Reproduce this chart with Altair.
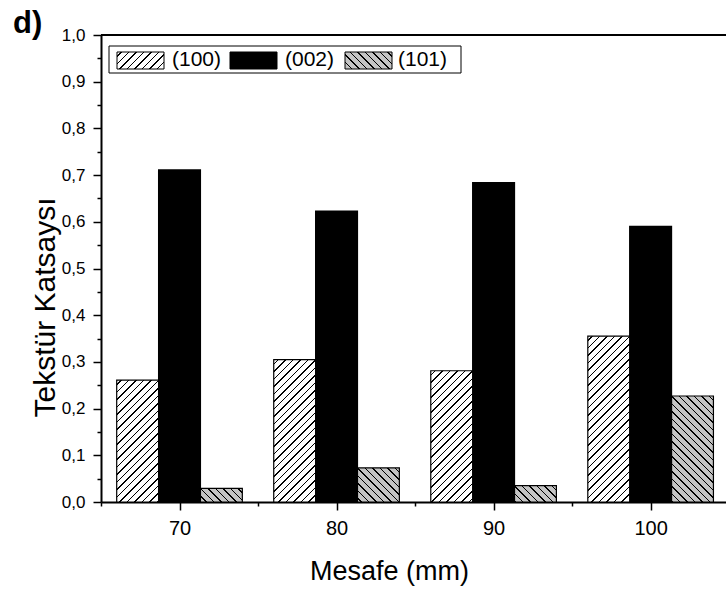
import altair as alt
import pandas as pd

# ---------------- data ----------------
mesafe = [70, 80, 90, 100]
planes = ["(100)", "(002)", "(101)"]
tc_100 = [0.261, 0.305, 0.281, 0.355]
tc_002 = [0.711, 0.623, 0.684, 0.590]
tc_101 = [0.029, 0.073, 0.035, 0.227]
x_tick_values = [65, 70, 75, 80, 85, 90, 95, 100]
y_tick_values = [0.0, 0.05, 0.1, 0.15, 0.2, 0.25, 0.3, 0.35, 0.4, 0.45, 0.5,
                 0.55, 0.6, 0.65, 0.7, 0.75, 0.8, 0.85, 0.9, 0.95, 1.0]

series = [tc_100, tc_002, tc_101]
rows = []
for j, (plane, vals) in enumerate(zip(planes, series)):
    for m, v in zip(mesafe, vals):
        rows.append({"mesafe": m, "plane": plane, "idx": j, "value": v})
df = pd.DataFrame(rows)

# ---------------- layout / style ----------------
FONT = "Liberation Sans"
W_PLOT, H_PLOT = 625, 467
X_DOMAIN = [65, 104.8]
GROUP = 8.0                      # group width in data units
BAR = GROUP / 3.0
PX_X = W_PLOT / (X_DOMAIN[1] - X_DOMAIN[0])
PX_Y = H_PLOT / 1.0
GREY = "#c4c4c4"


def hatch(W, H, bg, fg, direction, period=7.5, lw=1.5):
    """Linear-gradient stripes giving a 45-degree hatch on a W x H box."""
    S = W + H
    c = S / (W * W + H * H)
    if direction == "/":
        x1, y1, x2, y2 = 0, 0, c * W, c * H
    else:
        x1, y1, x2, y2 = 1, 0, 1 - c * W, c * H
    stops = [{"offset": 0, "color": bg}]
    s = period / 2.0
    while s + lw < S:
        a, b = s / S, (s + lw) / S
        stops += [{"offset": a, "color": bg}, {"offset": a, "color": fg},
                  {"offset": b, "color": fg}, {"offset": b, "color": bg}]
        s += period
    stops.append({"offset": 1, "color": bg})
    return {"gradient": "linear", "x1": x1, "y1": y1, "x2": x2, "y2": y2, "stops": stops}


xscale = alt.Scale(domain=X_DOMAIN, nice=False, zero=False)
yscale = alt.Scale(domain=[0, 1], nice=False, zero=True)

xaxis = alt.Axis(
    values=x_tick_values,
    labelExpr="datum.value % 10 == 0 ? datum.label : ''",
    tickSize={"condition": {"test": "datum.value % 10 == 0", "value": 8}, "value": 4},
    tickWidth=1.5, tickColor="black", domainColor="black", domainWidth=2,
    labelFontSize=20, labelColor="black", labelFont=FONT, labelBaseline="alphabetic",
    labelPadding=24, labelOverlap=False, labelFlush=False, grid=False,
    title="Mesafe (mm)", titleFontSize=27, titleFontWeight="normal", titleColor="black",
    titleFont=FONT, titleX=288, titleY=77, titleAlign="center", titleBaseline="alphabetic",
)
yaxis = alt.Axis(
    values=y_tick_values,
    labelExpr="(round(datum.value*100) % 10 == 0) ? replace(format(datum.value, '.1f'), '.', ',') : ''",
    tickSize={"condition": {"test": "round(datum.value*100) % 10 == 0", "value": 8}, "value": 4},
    tickWidth=1.5, tickColor="black", domainColor="black", domainWidth=2,
    labelFontSize=17, labelColor="black", labelFont=FONT, labelPadding=8,
    labelOverlap=False, labelFlush=False, grid=False,
    title="Tekstür Katsaysı", titleFontSize=30, titleFontWeight="normal", titleColor="black",
    titleFont=FONT, titleAngle=270, titleX=-47, titleY=272, titleAlign="center",
    titleBaseline="alphabetic",
)

base = alt.Chart(df).transform_calculate(
    x_start=f"datum.mesafe + (datum.idx - 1.5) * {BAR}",
    x_end=f"datum.mesafe + (datum.idx - 0.5) * {BAR}",
)


def enc(ch):
    return ch.encode(
        x=alt.X("x_start:Q", scale=xscale, axis=xaxis),
        x2="x_end:Q",
        y=alt.Y("value:Q", scale=yscale, axis=yaxis),
        y2=alt.datum(0),
    )


layers = []
# black (002) bars
layers.append(enc(base.transform_filter("datum.idx == 1").mark_bar(
    fill="black", stroke="black", strokeWidth=1.2)))
# hatched bars, one layer per bar so every bar gets a 45 degree hatch
W_BAR = BAR * PX_X
for j, vals, bg, d in [(0, tc_100, "white", "/"), (2, tc_101, GREY, "\\")]:
    for m, v in zip(mesafe, vals):
        grad = hatch(W_BAR, v * PX_Y, bg, "black", d)
        layers.append(enc(base.transform_filter(
            f"datum.idx == {j} && datum.mesafe == {m}").mark_bar(
            fill=grad, stroke="black", strokeWidth=1.2)))

one = pd.DataFrame({"k": [0]})
# top frame line
layers.append(alt.Chart(one).mark_rule(color="black", strokeWidth=2).encode(
    x=alt.value(0), x2=alt.value(W_PLOT), y=alt.value(0)))

# legend box
layers.append(alt.Chart(one).mark_rect(fill="white", stroke="black", strokeWidth=1).encode(
    x=alt.value(8), x2=alt.value(360), y=alt.value(11), y2=alt.value(38)))
sw_fills = [hatch(47, 17, "white", "black", "/"), "black", hatch(47, 17, GREY, "black", "\\")]
sw_x = [16, 129, 244]
tx_x = [71, 184, 297]
for lab, f, sx, tx in zip(planes, sw_fills, sw_x, tx_x):
    layers.append(alt.Chart(one).mark_rect(fill=f, stroke="black", strokeWidth=1).encode(
        x=alt.value(sx), x2=alt.value(sx + 47), y=alt.value(17), y2=alt.value(34)))
    layers.append(alt.Chart(one).mark_text(
        text=lab, font=FONT, fontSize=21, align="left", baseline="middle", color="black").encode(
        x=alt.value(tx), y=alt.value(25)))

# panel letter
layers.append(alt.Chart(one).mark_text(
    text="d)", font=FONT, fontSize=31, fontWeight="bold", align="left",
    baseline="alphabetic", color="black").encode(x=alt.value(-88), y=alt.value(-2)))

chart = alt.layer(*layers).properties(
    width=W_PLOT, height=H_PLOT,
    autosize=alt.AutoSizeParams(type="none"),
    padding={"left": 101, "top": 35, "right": 0, "bottom": 90},
    background="white",
).configure_view(stroke=None).configure(font=FONT)

chart.save("out.html", embed_options={"renderer": "svg", "actions": False})
